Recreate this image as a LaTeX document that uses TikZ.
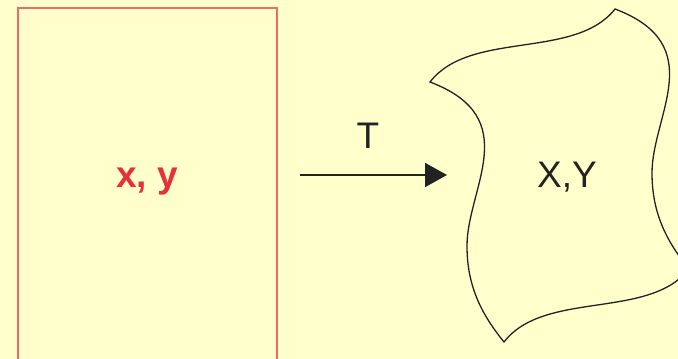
\documentclass[tikz,border=0pt]{standalone}
\usepackage{fontspec}
\setmainfont{Liberation Sans}
\usepackage{tikz}
\usetikzlibrary{arrows.meta, positioning}
\definecolor{paper}{HTML}{FFFFCC}
\definecolor{boxred}{HTML}{F06A6A}
\definecolor{labelred}{HTML}{E8303A}
\definecolor{inkgrey}{HTML}{222222}
\tikzstyle{srcbox} = [rectangle, minimum width=259pt, minimum height=400pt, draw=boxred, line width=2pt]
\tikzstyle{maptext} = [font=\fontsize{37}{40}\selectfont, text=inkgrey, inner sep=0pt, anchor=base]
\tikzstyle{redtext} = [maptext, font=\fontsize{37}{40}\selectfont\bfseries, text=labelred]
\tikzstyle{maparrow} = [line width=2pt, draw=inkgrey, -{Triangle[length=22pt,width=24pt]}]
\tikzstyle{warped} = [draw=inkgrey, line width=1.3pt, line join=miter]

\begin{document}
\begin{tikzpicture}[x=1pt, y=-1pt]
\useasboundingbox (0,0) rectangle (678,359);
\clip (0,0) rectangle (678,359);
\fill[paper] (0,0) rectangle (678,359);

% source region
\node (src) [srcbox] at (147.5,208) {};
\node (xy) [redtext] at (147,187) {x, y};

% mapped region
\coordinate (cA) at (430,82);
\coordinate (cB) at (615,9);
\coordinate (cC) at (689,269);
\coordinate (cD) at (504,342);
\draw [warped] (cA) .. controls (470,30) and (575,60) .. (cB)
  .. controls (710,45) and (652,115) .. (652,173)
  .. controls (652,215) and (668,243) .. (cC)
  .. controls (649,320) and (544,290) .. (cD)
  .. controls (483,316) and (467,288) .. (467,246)
  .. controls (467,188) and (525,118) .. (cA) -- cycle;
\node (XY) [maptext] at (567,187) {X,Y};

% transformation
\coordinate (tfrom) at (300,175);
\coordinate (tto) at (447,175);
\draw [maparrow] (tfrom) -- (tto);
\node (tname) [maptext] at (368,148) {T};
\end{tikzpicture}
\end{document}
